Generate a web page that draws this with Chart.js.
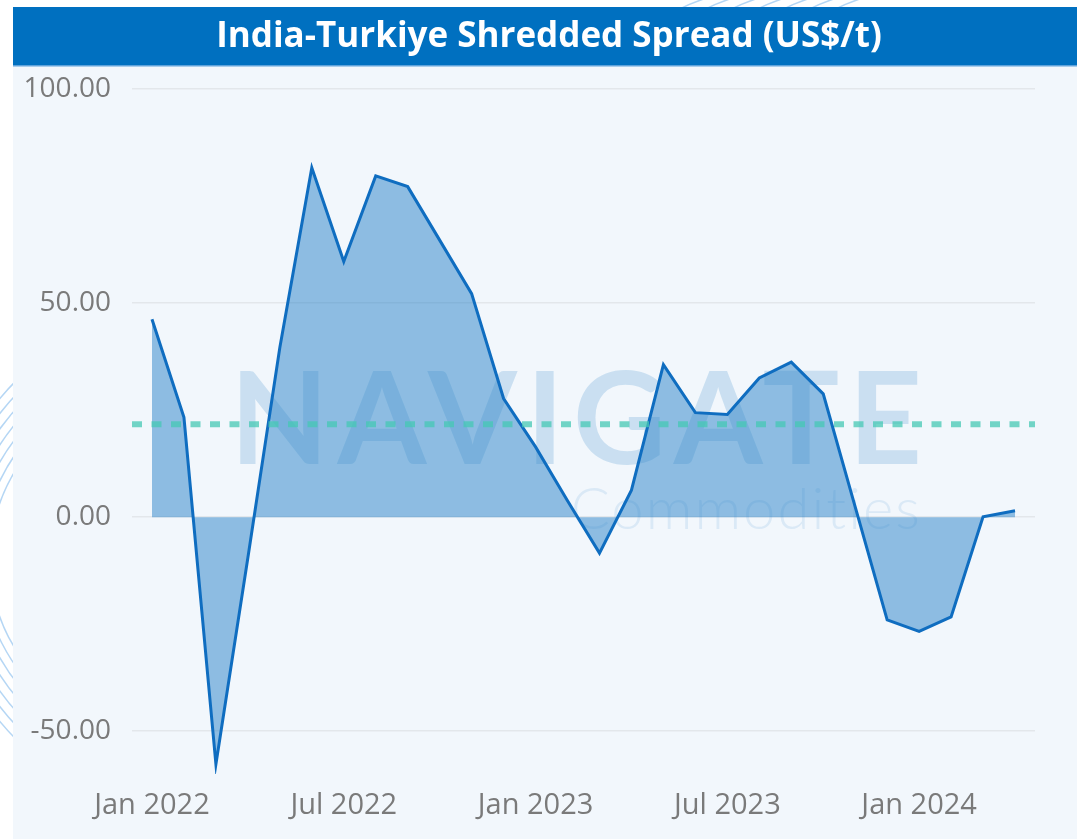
<!DOCTYPE html>
<html>
<head>
<meta charset="utf-8">
<script src="https://cdn.jsdelivr.net/npm/chart.js@4/dist/chart.umd.min.js"></script>
<style>
  html, body { margin: 0; padding: 0; background: #ffffff; }
  #wrap { width: 1077px; height: 839px; position: relative; }
</style>
</head>
<body>
<div id="wrap"><canvas id="chart1" width="1077" height="839"></canvas></div>
<script>
const titleText = 'India-Turkiye Shredded Spread (US$/t)';
const months = [
  'Jan 2022', 'Feb 2022', 'Mar 2022', 'Apr 2022', 'May 2022', 'Jun 2022',
  'Jul 2022', 'Aug 2022', 'Sep 2022', 'Oct 2022', 'Nov 2022', 'Dec 2022',
  'Jan 2023', 'Feb 2023', 'Mar 2023', 'Apr 2023', 'May 2023', 'Jun 2023',
  'Jul 2023', 'Aug 2023', 'Sep 2023', 'Oct 2023', 'Nov 2023', 'Dec 2023',
  'Jan 2024', 'Feb 2024', 'Mar 2024', 'Apr 2024'
];
const spread = [
  46.2, 23.3, -57.7, -9.5, 39.6, 81.6, 59.7, 79.7, 77.2, 64.7, 52.2, 27.7,
  16.4, 3.8, -8.4, 6.3, 35.6, 24.4, 24.0, 32.5, 36.2, 28.8, 2.4, -24.0,
  -26.7, -23.3, 0.1, 1.5
];
const averageSpread = 21.7;
const xTickIndex = [0, 6, 12, 18, 24];
const yTicks = [-50, 0, 50, 100];

const blue = '#0f6dc0';
const tickGrey = '#7a7a7a';

const ctx = document.getElementById('chart1').getContext('2d');

// page background, swirls, panel and title bar
const backdrop = {
  id: 'backdrop',
  beforeDraw(chart) {
    const c = chart.ctx;
    const w = chart.width, h = chart.height;
    c.save();
    c.fillStyle = '#ffffff';
    c.fillRect(0, 0, w, h);
    c.strokeStyle = 'rgba(120,180,235,0.55)';
    c.lineWidth = 1.5;
    for (let i = 0; i < 7; i++) {
      c.beginPath();
      c.arc(160 + i * 6, 560, 170 + i * 14, Math.PI * 0.6, Math.PI * 1.4);
      c.stroke();
      c.beginPath();
      c.arc(760 + i * 26, 170, 180, Math.PI * 1.35, Math.PI * 1.6);
      c.stroke();
    }
    c.fillStyle = '#f2f7fc';
    c.fillRect(13, 7, w - 13, h - 7);
    c.fillStyle = '#0070c0';
    c.fillRect(13, 7, w - 13, 59);
    c.fillStyle = '#5fa3db';
    c.fillRect(13, 65, w - 13, 1.5);

    c.fillStyle = '#ffffff';
    c.font = 'bold 35px "Open Sans"';
    c.textAlign = 'center';
    c.textBaseline = 'middle';
    c.fillText(titleText, 549, 37);
    c.restore();
  }
};

// NAVIGATE watermark behind the series
const watermark = {
  id: 'watermark',
  beforeDatasetsDraw(chart) {
    const c = chart.ctx;
    const a = chart.chartArea;
    c.save();
    c.textAlign = 'right';
    c.textBaseline = 'alphabetic';
    c.fillStyle = 'rgba(60,140,205,0.22)';
    c.font = '700 128px Lato';
    c.letterSpacing = '9px';
    c.fillText('NAVIGATE', a.left + 799, a.top + 375);
    c.fillStyle = 'rgba(60,140,205,0.13)';
    c.font = '300 58px Lato';
    c.letterSpacing = '2px';
    c.fillText('Commodities', a.left + 790, a.top + 440);
    c.restore();
  }
};

// dotted average line across the plot
const avgLine = {
  id: 'avgLine',
  afterDatasetsDraw(chart) {
    const c = chart.ctx;
    const a = chart.chartArea;
    const y = chart.scales.y.getPixelForValue(averageSpread);
    c.save();
    c.strokeStyle = 'rgba(70,200,180,0.75)';
    c.lineWidth = 6;
    c.setLineDash([10, 9.5]);
    c.beginPath();
    c.moveTo(a.left, y);
    c.lineTo(a.right, y);
    c.stroke();
    c.restore();
  }
};

new Chart(ctx, {
  type: 'line',
  data: {
    datasets: [{
      label: 'Spread',
      data: spread.map((v, i) => ({ x: i, y: v })),
      borderColor: blue,
      borderWidth: 3,
      backgroundColor: 'rgba(40,130,200,0.5)',
      fill: 'origin',
      pointRadius: 0,
      tension: 0
    }]
  },
  options: {
    responsive: false,
    animation: false,
    layout: { padding: { left: 13, right: 42, top: 89, bottom: 0 } },
    plugins: {
      legend: { display: false },
      tooltip: { enabled: false },
      title: { display: false }
    },
    scales: {
      x: {
        type: 'linear',
        min: -0.625,
        max: 27.625,
        grid: { display: false },
        border: { display: false },
        afterBuildTicks: (scale) => { scale.ticks = xTickIndex.map(v => ({ value: v })); },
        afterFit: (scale) => { scale.height = 65; },
        ticks: {
          color: tickGrey,
          padding: 6,
          maxRotation: 0,
          font: { family: 'Open Sans', size: 29 },
          callback: (v) => months[v]
        }
      },
      y: {
        min: -60,
        max: 100,
        grid: { color: '#e3e7eb', lineWidth: 1.5, drawTicks: false },
        border: { display: false },
        afterBuildTicks: (scale) => { scale.ticks = yTicks.map(v => ({ value: v })); },
        afterFit: (scale) => { scale.width = 119; },
        ticks: {
          color: tickGrey,
          padding: 21,
          font: { family: 'Open Sans', size: 28 },
          callback: (v) => v.toFixed(2)
        }
      }
    }
  },
  plugins: [backdrop, watermark, avgLine]
});
</script>
</body>
</html>
